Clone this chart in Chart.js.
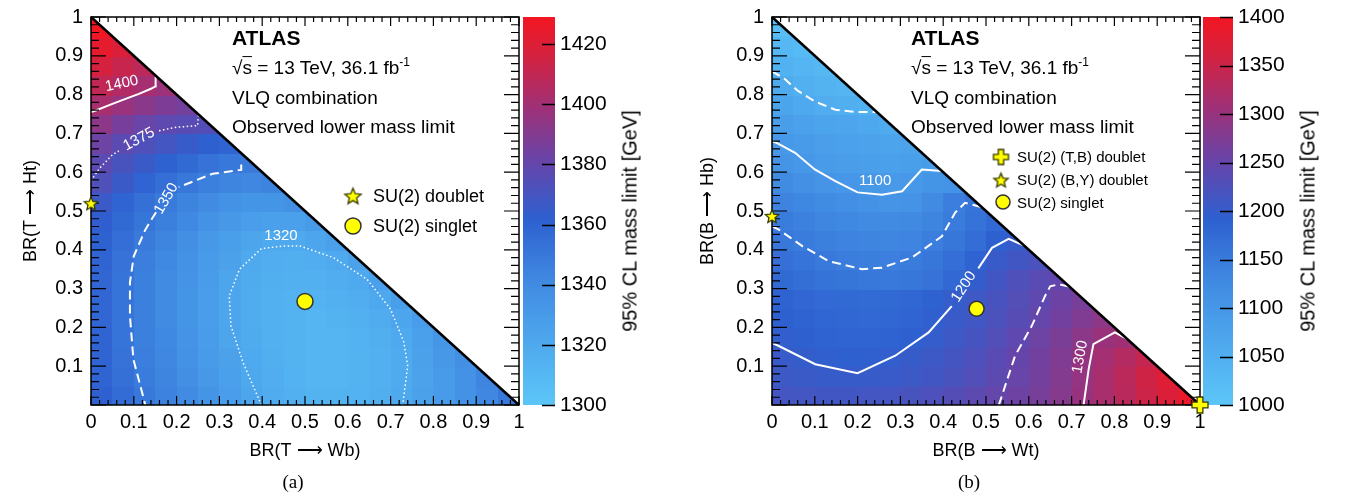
<!DOCTYPE html>
<html>
<head>
<meta charset="utf-8">
<script src="https://cdn.jsdelivr.net/npm/chart.js@4.4.1/dist/chart.umd.min.js"></script>
<style>
  html, body { margin: 0; padding: 0; background: #fff; }
  body { width: 1366px; height: 498px; position: relative; overflow: hidden;
         font-family: 'Liberation Sans', Arial, Helvetica, sans-serif; color: #000; }
  canvas { position: absolute; top: 0; }
  #cA { left: 0; }
  #cB { left: 683px; }
  .t { position: absolute; white-space: nowrap; line-height: 1.15; font-size: 19px; transform: translateY(-50%); }
  .t.big { font-size: 21px; font-weight: bold; }
  .t.leg { font-size: 18px; }
  .t.legs { font-size: 15px; }
  .ov { text-decoration: overline; }
  sup { font-size: 12px; vertical-align: 8px; line-height: 0; }
  .zt { position: absolute; white-space: nowrap; font-size: 20px; transform: translate(-50%, -50%) rotate(-90deg); }
  .cap { position: absolute; font-family: 'Liberation Serif', 'Times New Roman', serif; font-size: 19px; transform: translate(-50%, -50%); }
</style>
</head>
<body>
<canvas id="cA" width="683" height="498"></canvas>
<canvas id="cB" width="683" height="498"></canvas>

<div class="t big" style="left:232px;top:38px">ATLAS</div>
<div class="t" style="left:232px;top:68px">√<span class="ov">s</span> = 13 TeV, 36.1 fb<sup>-1</sup></div>
<div class="t" style="left:232px;top:98px">VLQ combination</div>
<div class="t" style="left:232px;top:127px">Observed lower mass limit</div>
<div class="t leg" style="left:373px;top:196px">SU(2) doublet</div>
<div class="t leg" style="left:373px;top:226px">SU(2) singlet</div>

<div class="t big" style="left:911px;top:38px">ATLAS</div>
<div class="t" style="left:911px;top:68px">√<span class="ov">s</span> = 13 TeV, 36.1 fb<sup>-1</sup></div>
<div class="t" style="left:911px;top:98px">VLQ combination</div>
<div class="t" style="left:911px;top:127px">Observed lower mass limit</div>
<div class="t legs" style="left:1017px;top:157px">SU(2) (T,B) doublet</div>
<div class="t legs" style="left:1017px;top:180px">SU(2) (B,Y) doublet</div>
<div class="t legs" style="left:1017px;top:203px">SU(2) singlet</div>

<div class="zt" style="left:630px;top:221px">95% CL mass limit [GeV]</div>
<div class="zt" style="left:1308px;top:221px">95% CL mass limit [GeV]</div>

<div class="cap" style="left:293px;top:482px">(a)</div>
<div class="cap" style="left:969px;top:482px">(b)</div>

<script>
// ---- axis ticks ----
const xTickVals = [0, 0.1, 0.2, 0.3, 0.4, 0.5, 0.6, 0.7, 0.8, 0.9, 1];
const xTickLabels = ['0', '0.1', '0.2', '0.3', '0.4', '0.5', '0.6', '0.7', '0.8', '0.9', '1'];
const yTickLabels = ['', '0.1', '0.2', '0.3', '0.4', '0.5', '0.6', '0.7', '0.8', '0.9', '1'];
const zTicksA = [1300, 1320, 1340, 1360, 1380, 1400, 1420];
const zTicksB = [1000, 1050, 1100, 1150, 1200, 1250, 1300, 1350, 1400];
const zRangeA = [1300, 1429];
const zRangeB = [1000, 1400];

// ---- observed mass limit [GeV] per 0.05 x 0.05 bin ----
// rows: BR(->H) bins from the bottom, columns: BR(->W) bins from the left
const limitA = [
  [1362, 1356, 1350, 1345, 1340, 1334, 1328, 1323, 1318, 1315, 1313, 1313, 1314, 1316, 1320, 1325, 1330, 1336, 1342, 1350],
  [1360, 1354, 1348, 1343, 1338, 1332, 1326, 1321, 1317, 1314, 1312, 1312, 1313, 1315, 1319, 1324, 1330, 1336, 1343],
  [1360, 1353, 1347, 1342, 1336, 1330, 1325, 1320, 1316, 1313, 1312, 1312, 1313, 1315, 1319, 1325, 1331, 1338],
  [1360, 1352, 1346, 1341, 1335, 1329, 1323, 1319, 1315, 1313, 1312, 1312, 1314, 1316, 1320, 1326, 1333],
  [1359, 1352, 1346, 1340, 1334, 1328, 1322, 1318, 1315, 1313, 1312, 1313, 1315, 1318, 1322, 1329],
  [1359, 1352, 1346, 1340, 1334, 1328, 1322, 1318, 1315, 1314, 1314, 1315, 1317, 1321, 1327],
  [1359, 1352, 1346, 1340, 1335, 1329, 1323, 1319, 1316, 1315, 1315, 1317, 1320, 1326],
  [1360, 1353, 1347, 1341, 1336, 1330, 1325, 1320, 1317, 1316, 1317, 1320, 1325],
  [1361, 1355, 1349, 1343, 1338, 1332, 1327, 1323, 1320, 1320, 1322, 1326],
  [1363, 1357, 1351, 1346, 1341, 1336, 1331, 1328, 1326, 1326, 1330],
  [1366, 1360, 1354, 1349, 1344, 1340, 1336, 1334, 1334, 1337],
  [1373, 1366, 1360, 1355, 1350, 1346, 1343, 1342, 1344],
  [1377, 1371, 1366, 1361, 1357, 1353, 1350, 1349],
  [1383, 1377, 1373, 1369, 1365, 1362, 1360],
  [1393, 1386, 1381, 1378, 1376, 1375],
  [1402, 1397, 1392, 1388, 1385],
  [1410, 1405, 1401, 1398],
  [1417, 1412, 1408],
  [1424, 1419],
  [1429]
];

const limitB = [
  [1216, 1214, 1213, 1213, 1214, 1216, 1220, 1225, 1232, 1240, 1249, 1258, 1268, 1282, 1299, 1316, 1334, 1352, 1370, 1390],
  [1207, 1204, 1202, 1201, 1201, 1203, 1207, 1213, 1220, 1229, 1240, 1251, 1264, 1279, 1297, 1316, 1335, 1355, 1375],
  [1203, 1198, 1195, 1193, 1194, 1197, 1202, 1208, 1215, 1225, 1237, 1250, 1262, 1276, 1296, 1312, 1328, 1345],
  [1197, 1192, 1188, 1186, 1186, 1188, 1192, 1199, 1207, 1217, 1229, 1243, 1257, 1271, 1287, 1302, 1308],
  [1192, 1187, 1183, 1181, 1180, 1181, 1185, 1194, 1203, 1212, 1223, 1235, 1249, 1262, 1276, 1290],
  [1187, 1182, 1178, 1176, 1175, 1177, 1181, 1189, 1199, 1209, 1219, 1231, 1243, 1256, 1268],
  [1176, 1169, 1163, 1158, 1154, 1153, 1156, 1164, 1179, 1198, 1213, 1226, 1237, 1247],
  [1168, 1160, 1153, 1147, 1144, 1143, 1148, 1156, 1170, 1188, 1203, 1213, 1222],
  [1155, 1148, 1142, 1137, 1134, 1133, 1135, 1145, 1156, 1172, 1192, 1201],
  [1148, 1140, 1133, 1128, 1125, 1124, 1126, 1134, 1148, 1163, 1178],
  [1138, 1130, 1123, 1117, 1112, 1108, 1109, 1125, 1145, 1160],
  [1125, 1116, 1108, 1101, 1096, 1094, 1098, 1104, 1110],
  [1108, 1100, 1093, 1088, 1084, 1082, 1084, 1090],
  [1099, 1092, 1085, 1079, 1075, 1073, 1074],
  [1088, 1080, 1073, 1068, 1064, 1061],
  [1072, 1062, 1053, 1049, 1046],
  [1060, 1048, 1041, 1037],
  [1046, 1036, 1031],
  [1033, 1026],
  [1020]
];

// ---- contours (segments of [BR(->W), BR(->H)] points) ----
const contA1400 = [[[0, 0.755], [0.011, 0.759], [0.05, 0.776], [0.09, 0.793], [0.112, 0.802], [0.14, 0.815], [0.15, 0.821], [0.151, 0.846]]];
const contA1375 = [[[0, 0.578], [0.02, 0.61], [0.05, 0.645], [0.065, 0.655]],
                   [[0.159, 0.707], [0.2, 0.716], [0.249, 0.72], [0.251, 0.747]]];
const contA1350 = [[[0.351, 0.62], [0.351, 0.606], [0.284, 0.596], [0.222, 0.569], [0.205, 0.562]],
                   [[0.152, 0.497], [0.127, 0.452], [0.10, 0.384], [0.091, 0.316], [0.091, 0.23], [0.099, 0.118], [0.127, 0]]];
const contA1320 = [[[0.398, 0], [0.355, 0.11], [0.327, 0.204], [0.323, 0.281], [0.347, 0.35], [0.398, 0.403],
                    [0.45, 0.41], [0.488, 0.41], [0.566, 0.38], [0.645, 0.324], [0.70, 0.247], [0.731, 0.162], [0.74, 0.1], [0.728, 0]]];

const contB1050 = [[[0, 0.86], [0.03, 0.84], [0.06, 0.81], [0.101, 0.782], [0.148, 0.761], [0.2, 0.755], [0.245, 0.755]]];
const contB1100 = [[[0, 0.68], [0.012, 0.675], [0.054, 0.65], [0.1, 0.607], [0.148, 0.577], [0.2, 0.548], [0.257, 0.542],
                    [0.304, 0.551], [0.35, 0.607], [0.397, 0.603]]];
const contB1150 = [[[0, 0.46], [0.016, 0.452], [0.07, 0.41], [0.132, 0.371], [0.21, 0.35], [0.257, 0.354], [0.327, 0.38],
                    [0.397, 0.435], [0.428, 0.496], [0.451, 0.521], [0.49, 0.51]]];
const contB1200 = [[[0, 0.16], [0.016, 0.152], [0.101, 0.105], [0.2, 0.082], [0.288, 0.127], [0.366, 0.187], [0.42, 0.255]],
                   [[0.482, 0.352], [0.514, 0.405], [0.553, 0.428], [0.59, 0.41]]];
const contB1250 = [[[0.53, 0], [0.568, 0.127], [0.607, 0.204], [0.638, 0.281], [0.65, 0.306], [0.67, 0.311], [0.695, 0.305]]];
const contB1300 = [[[0.728, 0], [0.74, 0.093], [0.751, 0.157], [0.801, 0.187], [0.83, 0.17]]];

// ---- benchmark points ----
const doubletA = [[0, 0.52]];
const singletA = [[0.5, 0.267]];
const tbDoubletB = [[1, 0]];
const byDoubletB = [[0, 0.487]];
const singletB = [[0.478, 0.248]];

const FONT = "'Liberation Sans', Arial, Helvetica, sans-serif";
const BIN = 0.05;

// colour palette of the z axis (light blue -> blue -> purple -> red)
const cmapStops = [
  [0.00, [92, 198, 248]],
  [0.30, [66, 142, 228]],
  [0.48, [46, 96, 208]],
  [0.62, [100, 70, 172]],
  [0.77, [160, 48, 118]],
  [0.90, [212, 34, 64]],
  [1.00, [242, 22, 34]]
];

function cmap(t) {
  t = Math.max(0, Math.min(1, t));
  for (let k = 1; k < cmapStops.length; k++) {
    const [t1, c1] = cmapStops[k];
    if (t <= t1) {
      const [t0, c0] = cmapStops[k - 1];
      const f = (t - t0) / (t1 - t0);
      return 'rgb(' + c0.map((v, n) => Math.round(v + (c1[n] - v) * f)).join(',') + ')';
    }
  }
  return 'rgb(' + cmapStops[cmapStops.length - 1][1].join(',') + ')';
}

// marker images
function starImage(size) {
  const c = document.createElement('canvas');
  c.width = c.height = size + 4;
  const g = c.getContext('2d');
  const cx = c.width / 2, cy = c.height / 2 + 0.8, R = size / 2, r = R * 0.45;
  g.beginPath();
  for (let k = 0; k < 10; k++) {
    const ang = -Math.PI / 2 + k * Math.PI / 5;
    const rr = k % 2 ? r : R;
    g.lineTo(cx + rr * Math.cos(ang), cy + rr * Math.sin(ang));
  }
  g.closePath();
  g.fillStyle = '#ffff00';
  g.fill();
  g.strokeStyle = '#3a3a00';
  g.lineWidth = 1.3;
  g.stroke();
  return c;
}

function plusImage(size) {
  const c = document.createElement('canvas');
  c.width = c.height = size + 4;
  const g = c.getContext('2d');
  const o = 2, s = size, a = s * 0.32, b = s * 0.68;
  g.beginPath();
  g.moveTo(o + a, o); g.lineTo(o + b, o); g.lineTo(o + b, o + a); g.lineTo(o + s, o + a);
  g.lineTo(o + s, o + b); g.lineTo(o + b, o + b); g.lineTo(o + b, o + s); g.lineTo(o + a, o + s);
  g.lineTo(o + a, o + b); g.lineTo(o, o + b); g.lineTo(o, o + a); g.lineTo(o + a, o + a);
  g.closePath();
  g.fillStyle = '#ffff00';
  g.fill();
  g.strokeStyle = '#3a3a00';
  g.lineWidth = 1.3;
  g.stroke();
  return c;
}

const starSmall = starImage(14);
const starBig = starImage(17);
const plusSmall = plusImage(16);
const plusLegend = plusImage(15);

const panels = {};

function drawFrame(chart) {
  const p = panels[chart.canvas.id];
  const {ctx, chartArea: a} = chart;
  const {x, y} = chart.scales;
  ctx.save();
  // contour labels
  ctx.fillStyle = '#fff';
  ctx.font = '15px ' + FONT;
  ctx.textAlign = 'center';
  ctx.textBaseline = 'middle';
  p.contourLabels.forEach(l => {
    ctx.save();
    ctx.translate(x.getPixelForValue(l.x), y.getPixelForValue(l.y));
    ctx.rotate(l.rot * Math.PI / 180);
    ctx.fillText(l.text, 0, 0);
    ctx.restore();
  });
  // frame with inward ticks on all sides
  ctx.strokeStyle = '#000';
  ctx.lineWidth = 1.5;
  ctx.strokeRect(a.left, a.top, a.right - a.left, a.bottom - a.top);
  ctx.lineWidth = 1.2;
  ctx.beginPath();
  for (let k = 0; k <= 50; k++) {
    const v = k / 50;
    const major = k % 5 === 0;
    const px = x.getPixelForValue(v), py = y.getPixelForValue(v);
    const lx = major ? 9 : 5, ly = major ? 15 : 8;
    ctx.moveTo(px, a.bottom); ctx.lineTo(px, a.bottom - lx);
    ctx.moveTo(px, a.top); ctx.lineTo(px, a.top + lx);
    ctx.moveTo(a.left, py); ctx.lineTo(a.left + ly, py);
    ctx.moveTo(a.right, py); ctx.lineTo(a.right - ly, py);
  }
  ctx.stroke();
  // kinematic boundary BR(W) + BR(H) = 1
  ctx.lineWidth = 2.5;
  ctx.beginPath();
  ctx.moveTo(x.getPixelForValue(0), y.getPixelForValue(1));
  ctx.lineTo(x.getPixelForValue(1), y.getPixelForValue(0));
  ctx.stroke();
  ctx.restore();
}

const vlqPlugin = {
  id: 'vlq',
  beforeDraw(chart) {
    chart.$frameDone = false;
  },
  beforeDatasetsDraw(chart) {
    const p = panels[chart.canvas.id];
    const {ctx, chartArea: a} = chart;
    const {x, y, z} = chart.scales;
    const zDec = v => (z.bottom - z.getPixelForValue(v)) / (z.bottom - z.top);

    ctx.save();
    ctx.beginPath();
    ctx.moveTo(x.getPixelForValue(0), y.getPixelForValue(1));
    ctx.lineTo(x.getPixelForValue(0), y.getPixelForValue(0));
    ctx.lineTo(x.getPixelForValue(1), y.getPixelForValue(0));
    ctx.closePath();
    ctx.clip();
    p.limits.forEach((row, j) => row.forEach((v, i) => {
      const x0 = Math.round(x.getPixelForValue(i * BIN));
      const x1 = Math.round(x.getPixelForValue((i + 1) * BIN));
      const y0 = Math.round(y.getPixelForValue(j * BIN));
      const y1 = Math.round(y.getPixelForValue((j + 1) * BIN));
      ctx.fillStyle = cmap(zDec(v));
      ctx.fillRect(x0, y1, x1 - x0 + 1, y0 - y1 + 1);
    }));
    ctx.restore();

    // colour bar
    const bx = a.right + p.barGap, bw = p.barWidth;
    const grad = ctx.createLinearGradient(0, z.bottom, 0, z.top);
    cmapStops.forEach(([t, c]) => grad.addColorStop(t, 'rgb(' + c.join(',') + ')'));
    ctx.save();
    ctx.fillStyle = grad;
    ctx.fillRect(bx, z.top, bw, z.bottom - z.top);
    ctx.strokeStyle = '#000';
    ctx.lineWidth = 1.5;
    ctx.beginPath();
    z.ticks.forEach(t => {
      const py = Math.round(z.getPixelForValue(t.value)) + 0.5;
      ctx.moveTo(bx + bw, py);
      ctx.lineTo(bx + bw - 13, py);
    });
    ctx.stroke();
    ctx.restore();
  },
  beforeDatasetDraw(chart, args) {
    const ds = chart.data.datasets[args.index];
    if (!chart.$frameDone && ds.kind === 'marker') {
      drawFrame(chart);
      chart.$frameDone = true;
    }
  },
  afterDraw(chart) {
    const p = panels[chart.canvas.id];
    const ctx = chart.ctx;
    if (!chart.$frameDone) drawFrame(chart);
    // legend symbols
    p.legend.forEach(m => {
      if (m.style === 'circle') {
        ctx.save();
        ctx.beginPath();
        ctx.arc(m.px, m.py, m.r, 0, Math.PI * 2);
        ctx.fillStyle = '#ffff00';
        ctx.fill();
        ctx.strokeStyle = '#333';
        ctx.lineWidth = 1.5;
        ctx.stroke();
        ctx.restore();
      } else {
        ctx.drawImage(m.img, m.px - m.img.width / 2, m.py - m.img.height / 2);
      }
    });
  }
};

function toPts(arr) {
  return arr.map(([px, py]) => ({x: px, y: py}));
}

// keep the vertical axes from pushing the plot down with label padding
function noVPad(s) {
  s.paddingTop = 0;
  s.paddingBottom = 0;
}

function makePanel(canvasId, p) {
  panels[canvasId] = p;
  const datasets = [];
  // markers first: they are drawn last, on top of everything
  p.markers.forEach(m => {
    datasets.push({
      kind: 'marker',
      data: toPts(m.data),
      pointStyle: m.style,
      pointRadius: m.r || 8,
      backgroundColor: '#ffff00',
      borderColor: '#333',
      borderWidth: 1.5,
      clip: false
    });
  });
  p.contours.forEach(c => {
    c.segments.forEach(seg => {
      datasets.push({
        kind: 'contour',
        data: toPts(seg),
        showLine: true,
        borderColor: '#ffffff',
        borderWidth: c.style === 'dotted' ? 1.5 : 2,
        borderDash: c.style === 'dotted' ? [1.5, 2.5] : (c.style === 'dashed' ? [9, 5] : []),
        pointRadius: 0,
        tension: 0,
        fill: false
      });
    });
  });

  const tickFont = {family: FONT, size: 20};
  const titleFont = {family: FONT, size: 18};

  return new Chart(document.getElementById(canvasId), {
    type: 'scatter',
    data: {datasets},
    options: {
      responsive: false,
      animation: false,
      events: [],
      layout: {padding: {top: 17, bottom: 35, left: 0, right: 0}},
      plugins: {legend: {display: false}, tooltip: {enabled: false}},
      scales: {
        x: {
          type: 'linear', min: 0, max: 1,
          afterBuildTicks: s => { s.ticks = xTickVals.map(v => ({value: v})); },
          afterFit: s => { s.height = 58; },
          grid: {display: false, drawTicks: false},
          border: {display: false},
          ticks: {callback: (v, i) => xTickLabels[i], font: tickFont, color: '#000', padding: 5, maxRotation: 0, autoSkip: false},
          title: {display: true, text: p.xTitle, font: titleFont, color: '#000', padding: {top: 0, bottom: 1}}
        },
        y: {
          type: 'linear', min: 0, max: 1, position: 'left',
          afterBuildTicks: s => { s.ticks = xTickVals.map(v => ({value: v})); },
          afterFit: s => { s.width = p.yWidth; noVPad(s); },
          grid: {display: false, drawTicks: false},
          border: {display: false},
          ticks: {callback: (v, i) => yTickLabels[i], font: tickFont, color: '#000', padding: 8, autoSkip: false},
          title: {display: true, text: p.yTitle, font: titleFont, color: '#000', padding: {top: p.yTitlePad, bottom: 0}}
        },
        z: {
          type: 'linear', position: 'right', axis: 'y', min: p.zRange[0], max: p.zRange[1],
          afterBuildTicks: s => { s.ticks = p.zTicks.map(v => ({value: v})); },
          afterFit: s => { s.width = p.zWidth; noVPad(s); },
          grid: {display: false, drawTicks: false},
          border: {display: false},
          ticks: {font: {family: FONT, size: 21}, color: '#000', padding: p.barGap + p.barWidth + 5, autoSkip: false,
                  callback: v => String(v)}
        }
      }
    },
    plugins: [vlqPlugin]
  });
}

makePanel('cA', {
  limits: limitA,
  zRange: zRangeA, zTicks: zTicksA,
  yWidth: 91, zWidth: 164, barGap: 4, barWidth: 32, yTitlePad: 20,
  xTitle: 'BR(T ⟶ Wb)', yTitle: 'BR(T ⟶ Ht)',
  contours: [
    {segments: contA1400, style: 'solid'},
    {segments: contA1375, style: 'dotted'},
    {segments: contA1350, style: 'dashed'},
    {segments: contA1320, style: 'dotted'}
  ],
  contourLabels: [
    {text: '1400', x: 0.072, y: 0.828, rot: -12},
    {text: '1375', x: 0.112, y: 0.685, rot: -28},
    {text: '1350', x: 0.176, y: 0.532, rot: -60},
    {text: '1320', x: 0.444, y: 0.437, rot: 0}
  ],
  markers: [
    {data: doubletA, style: starSmall},
    {data: singletA, style: 'circle', r: 8}
  ],
  legend: [
    {img: starBig, px: 353, py: 196},
    {style: 'circle', px: 353, py: 226, r: 8}
  ]
});

makePanel('cB', {
  limits: limitB,
  zRange: zRangeB, zTicks: zTicksB,
  yWidth: 89, zWidth: 166, barGap: 3, barWidth: 30, yTitlePad: 14,
  xTitle: 'BR(B ⟶ Wt)', yTitle: 'BR(B ⟶ Hb)',
  contours: [
    {segments: contB1050, style: 'dashed'},
    {segments: contB1100, style: 'solid'},
    {segments: contB1150, style: 'dashed'},
    {segments: contB1200, style: 'solid'},
    {segments: contB1250, style: 'dashed'},
    {segments: contB1300, style: 'solid'}
  ],
  contourLabels: [
    {text: '1100', x: 0.241, y: 0.578, rot: 0},
    {text: '1200', x: 0.448, y: 0.305, rot: -57},
    {text: '1300', x: 0.72, y: 0.124, rot: -80}
  ],
  markers: [
    {data: tbDoubletB, style: plusSmall},
    {data: byDoubletB, style: starSmall},
    {data: singletB, style: 'circle', r: 7.5}
  ],
  legend: [
    {img: plusLegend, px: 318, py: 157},
    {img: starImage(15), px: 318, py: 180},
    {style: 'circle', px: 320, py: 202, r: 7}
  ]
});
</script>
</body>
</html>
